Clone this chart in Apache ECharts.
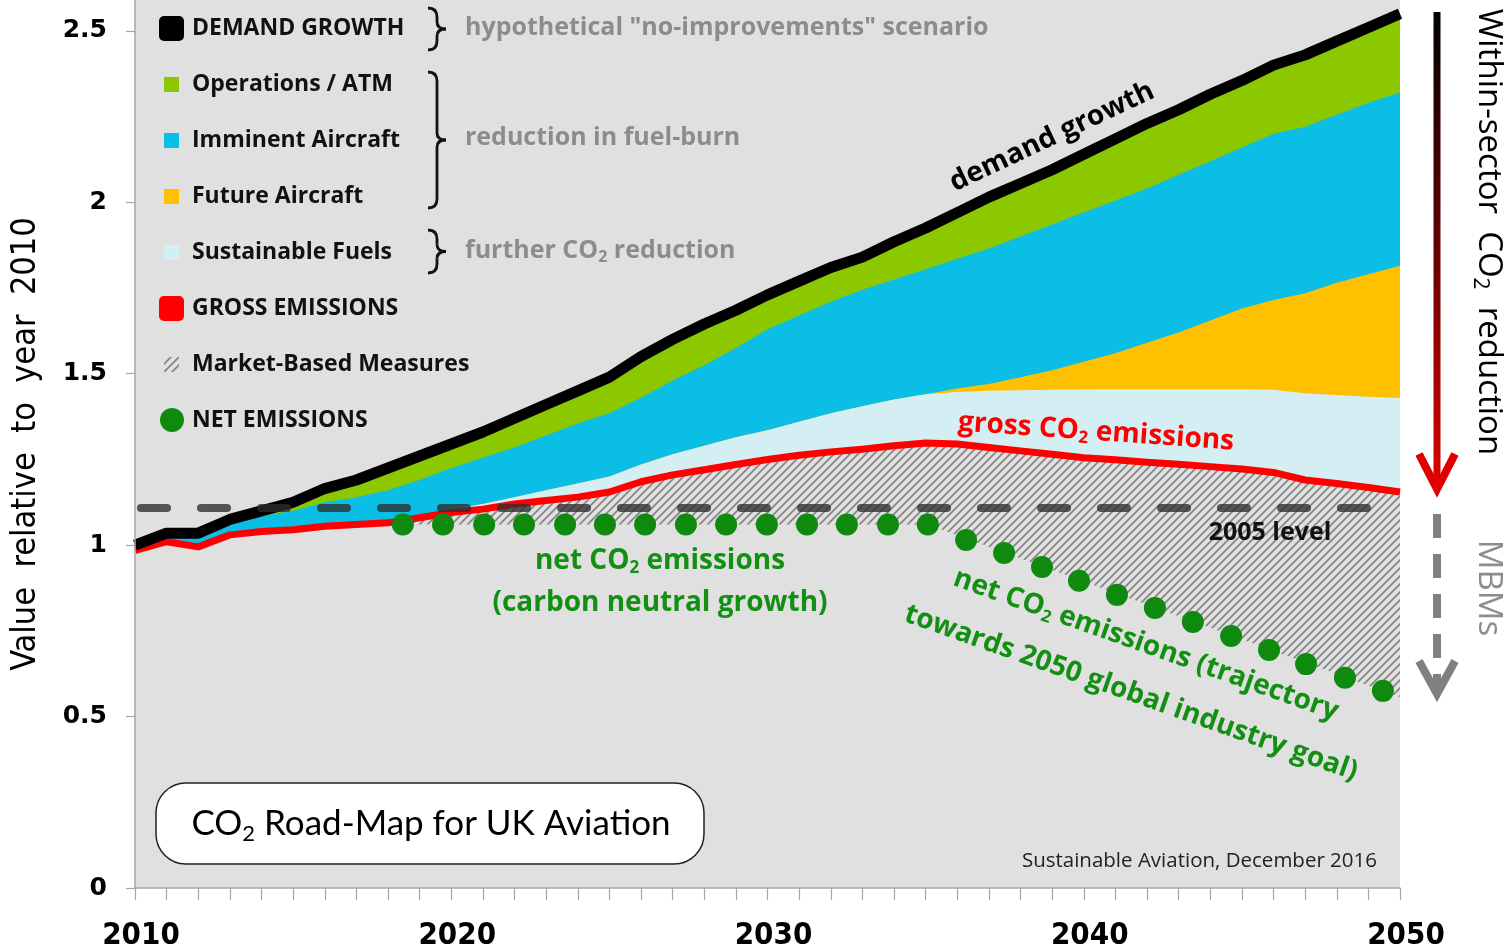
<!DOCTYPE html>
<html>
<head>
<meta charset="utf-8">
<script src="https://cdn.jsdelivr.net/npm/echarts@6/dist/echarts.min.js"></script>
<style>html,body{margin:0;padding:0;background:#fff;}#c{width:1507px;height:951px;}</style>
</head>
<body>
<div id="c"></div>
<script>
// ---------- data ----------
const years = [2010,2011,2012,2013,2014,2015,2016,2017,2018,2019,2020,2021,2022,2023,2024,2025,2026,2027,2028,2029,2030,
  2031,2032,2033,2034,2035,2036,2037,2038,2039,2040,2041,2042,2043,2044,2045,2046,2047,2048,2049,2050];
// demand growth (top of green band)
const demand = [1.000,1.035,1.035,1.075,1.100,1.125,1.165,1.190,1.225,1.260,1.295,1.330,1.370,1.410,1.450,1.490,1.550,1.600,1.645,1.685,1.730,
  1.770,1.810,1.840,1.885,1.925,1.970,2.015,2.055,2.095,2.140,2.185,2.230,2.270,2.315,2.355,2.400,2.430,2.470,2.510,2.550];
// top of Imminent Aircraft band (bottom of Operations/ATM)
const imminentTop = [1.000,1.025,1.025,1.065,1.085,1.100,1.125,1.140,1.160,1.190,1.225,1.255,1.285,1.320,1.355,1.385,1.430,1.480,1.525,1.575,1.630,
  1.670,1.710,1.745,1.775,1.805,1.835,1.865,1.900,1.935,1.970,2.005,2.040,2.080,2.120,2.160,2.200,2.220,2.255,2.290,2.320];
// top of Future Aircraft band
const futureTop = [0.985,1.010,0.995,1.030,1.040,1.045,1.055,1.060,1.065,1.085,1.105,1.120,1.140,1.160,1.180,1.200,1.235,1.265,1.290,1.315,1.335,
  1.360,1.385,1.405,1.425,1.440,1.457,1.470,1.490,1.510,1.535,1.560,1.590,1.620,1.655,1.690,1.715,1.735,1.765,1.790,1.815];
// top of Sustainable Fuels band
const fuelsTop = [0.985,1.010,0.995,1.030,1.040,1.045,1.055,1.060,1.065,1.085,1.105,1.120,1.140,1.160,1.180,1.200,1.235,1.265,1.290,1.315,1.335,
  1.360,1.385,1.405,1.425,1.440,1.447,1.450,1.452,1.453,1.454,1.455,1.455,1.455,1.455,1.455,1.453,1.443,1.438,1.433,1.429];
// gross CO2 emissions
const gross = [0.985,1.010,0.995,1.030,1.040,1.045,1.055,1.060,1.065,1.080,1.095,1.105,1.120,1.130,1.140,1.155,1.185,1.205,1.220,1.235,1.250,
  1.262,1.272,1.280,1.290,1.298,1.295,1.285,1.275,1.265,1.255,1.249,1.242,1.236,1.229,1.222,1.212,1.190,1.180,1.168,1.155];
// net CO2 emissions (dots)
const netYears = [2018.47,2019.74,2021.04,2022.30,2023.60,2024.86,2026.13,2027.42,2028.69,2029.98,2031.25,2032.51,2033.81,2035.07,
  2036.28,2037.48,2038.68,2039.85,2041.05,2042.25,2043.45,2044.66,2045.86,2047.03,2048.26,2049.46];
const netValues = [1.06,1.06,1.06,1.06,1.06,1.06,1.06,1.06,1.06,1.06,1.06,1.06,1.06,1.06,
  1.015,0.977,0.936,0.896,0.855,0.817,0.776,0.735,0.694,0.653,0.613,0.575];
// lower edge of the Market-Based Measures (hatched) band
const mbmFloorYears = [2018.47,2035.07,2050];
const mbmFloorValues = [1.06,1.06,0.557];
const level2005 = 1.111;
const yTicks = [0,0.5,1,1.5,2,2.5];
const xLabelYears = [2010,2020,2030,2040,2050];

// ---------- styling ----------
const FONT = '"Open Sans", Lato, sans-serif';
const LFONT = 'Lato, "Open Sans", sans-serif';
const BG = '#e0e0e0';
const C_GREEN = '#8cc800', C_BLUE = '#0bbee6', C_ORANGE = '#ffc000', C_FUEL = '#d4eff3',
      C_RED = '#ff0000', C_NET = '#0f8a0f', C_GREYTXT = '#8c8c8c', C_TXTGREEN = '#139013';

function makeHatch(bg) {
  const c = document.createElement('canvas'); c.width = 8; c.height = 8;
  const g = c.getContext('2d'); g.fillStyle = bg; g.fillRect(0, 0, 8, 8);
  g.strokeStyle = '#858585'; g.lineWidth = 1.7;
  g.beginPath(); g.moveTo(-2, 10); g.lineTo(10, -2); g.moveTo(-2, 2); g.lineTo(2, -2); g.moveTo(6, 10); g.lineTo(10, 6); g.stroke();
  return c;
}
const hatch = { image: makeHatch(BG), repeat: 'repeat' };

const pairs = (xs, ys) => xs.map((x, i) => [x, ys[i]]);
const area = (name, data, color, z) => ({
  type: 'line', name, data, z, symbol: 'none', silent: true,
  lineStyle: { width: 0 }, areaStyle: { color: color, opacity: 1 }
});
const floorData = pairs(years, gross).filter(p => p[0] < mbmFloorYears[0]).concat(pairs(mbmFloorYears, mbmFloorValues));

function brace(x, y1, y2) {
  const ym = (y1 + y2) / 2, w = 9, st = { stroke: '#111', lineWidth: 2.8, fill: null };
  const q = (a, b, c, d, e, f) => ({ type: 'bezierCurve', z: 100, shape: { x1: a, y1: b, cpx1: c, cpy1: d, x2: e, y2: f }, style: st });
  const l = (a, b, c, d) => ({ type: 'line', z: 100, shape: { x1: a, y1: b, x2: c, y2: d }, style: st });
  return [
    q(x, y1, x + w, y1, x + w, y1 + 9), l(x + w, y1 + 9, x + w, ym - 7),
    q(x + w, ym - 7, x + w, ym, x + 2 * w, ym), q(x + 2 * w, ym, x + w, ym, x + w, ym + 7),
    l(x + w, ym + 7, x + w, y2 - 9), q(x + w, y2 - 9, x + w, y2, x, y2)
  ];
}
const legendItems = [
  { t: 'DEMAND GROWTH', y: 28 }, { t: 'Operations / ATM', y: 84 }, { t: 'Imminent Aircraft', y: 140 },
  { t: 'Future Aircraft', y: 196 }, { t: 'Sustainable Fuels', y: 252 }, { t: 'GROSS EMISSIONS', y: 308 },
  { t: 'Market-Based Measures', y: 364 }, { t: 'NET EMISSIONS', y: 420 }
];
const g = [];
legendItems.forEach(it => g.push({ type: 'text', x: 192, y: it.y, z: 100,
  style: { text: it.t, font: `bold 23px ${FONT}`, fill: '#111', align: 'left', verticalAlign: 'middle' } }));
g.push({ type: 'rect', shape: { x: 159, y: 16, width: 25, height: 25, r: 5 }, style: { fill: '#000' }, z: 100 });
g.push({ type: 'rect', shape: { x: 164, y: 77, width: 15, height: 15 }, style: { fill: C_GREEN }, z: 100 });
g.push({ type: 'rect', shape: { x: 164, y: 133, width: 15, height: 15 }, style: { fill: C_BLUE }, z: 100 });
g.push({ type: 'rect', shape: { x: 164, y: 189, width: 15, height: 15 }, style: { fill: C_ORANGE }, z: 100 });
g.push({ type: 'rect', shape: { x: 164, y: 245, width: 15, height: 15 }, style: { fill: C_FUEL }, z: 100 });
g.push({ type: 'rect', shape: { x: 159, y: 296, width: 25, height: 25, r: 5 }, style: { fill: C_RED }, z: 100 });
g.push({ type: 'rect', shape: { x: 164, y: 357, width: 15, height: 15 }, style: { fill: { image: makeHatch(BG), repeat: 'repeat' } }, z: 100 });
g.push({ type: 'circle', shape: { cx: 172, cy: 420, r: 12 }, style: { fill: C_NET }, z: 100 });
// braces + group notes
[[8, 50], [72, 208], [230, 273]].forEach(b => brace(428, b[0], b[1]).forEach(e => g.push(e)));
const noteRich = { a: { font: `bold 25px ${FONT}`, fill: C_GREYTXT }, s: { font: `bold 16px ${FONT}`, fill: C_GREYTXT, padding: [13, 0, 0, 0] } };
g.push({ type: 'text', x: 465, y: 28, z: 100, style: { text: '{a|hypothetical "no-improvements" scenario}', rich: noteRich, align: 'left', verticalAlign: 'middle' } });
g.push({ type: 'text', x: 465, y: 138, z: 100, style: { text: '{a|reduction in fuel-burn}', rich: noteRich, align: 'left', verticalAlign: 'middle' } });
g.push({ type: 'text', x: 465, y: 251, z: 100, style: { text: '{a|further CO}{s|2}{a| reduction}', rich: noteRich, align: 'left', verticalAlign: 'middle' } });
// curve labels
function rt(txt, color, size) {
  return { text: txt, align: 'center', verticalAlign: 'middle',
    rich: { a: { font: `bold ${size}px ${FONT}`, fill: color }, s: { font: `bold ${Math.round(size * 0.62)}px ${FONT}`, fill: color, padding: [Math.round(size * 0.5), 0, 0, 0] } } };
}
g.push({ type: 'text', x: 1052, y: 137, rotation: 0.44, z: 100, style: rt('{a|demand growth}', '#000', 28) });
g.push({ type: 'text', x: 1096, y: 432, rotation: -0.07, z: 100, style: rt('{a|gross CO}{s|2}{a| emissions}', C_RED, 28) });
g.push({ type: 'text', x: 660, y: 561, z: 100, style: rt('{a|net CO}{s|2}{a| emissions}', C_TXTGREEN, 28) });
g.push({ type: 'text', x: 660, y: 603, z: 100, style: rt('{a|(carbon neutral growth)}', C_TXTGREEN, 28) });
g.push({ type: 'text', x: 1146, y: 645, rotation: -0.34, z: 100, style: rt('{a|net CO}{s|2}{a| emissions (trajectory}', C_TXTGREEN, 28) });
g.push({ type: 'text', x: 1131, y: 693, rotation: -0.34, z: 100, style: rt('{a|towards 2050 global industry goal)}', C_TXTGREEN, 28) });
g.push({ type: 'text', x: 1270, y: 533, z: 100, style: { text: '2005 level', font: `bold 25px ${FONT}`, fill: '#111', align: 'center', verticalAlign: 'middle' } });
// title box
g.push({ type: 'rect', z: 100, shape: { x: 156, y: 783, width: 548, height: 81, r: 30 }, style: { fill: '#fff', stroke: '#222', lineWidth: 1.5 } });
g.push({ type: 'text', x: 431, y: 824, z: 101, style: {
  text: '{a|CO}{s|2}{a| Road-Map for UK Aviation}', align: 'center', verticalAlign: 'middle',
  rich: { a: { font: `35px ${LFONT}`, fill: '#000' }, s: { font: `22px ${LFONT}`, fill: '#000', padding: [19, 0, 0, 0] } } } });
g.push({ type: 'text', x: 1377, y: 861, z: 100, style: { text: 'Sustainable Aviation, December 2016', font: `20.5px ${FONT}`, fill: '#222', align: 'right', verticalAlign: 'middle' } });
// right-hand arrows and labels
g.push({ type: 'line', z: 100, shape: { x1: 1437, y1: 12, x2: 1437, y2: 486 }, style: { lineWidth: 7,
  stroke: new echarts.graphic.LinearGradient(0, 0, 0, 1, [{ offset: 0, color: '#000' }, { offset: 0.55, color: '#700000' }, { offset: 1, color: '#e00000' }], false) } });
g.push({ type: 'polyline', z: 100, shape: { points: [[1419, 454], [1437, 489], [1455, 454]] }, style: { stroke: '#e00000', lineWidth: 8, fill: null } });
g.push({ type: 'line', z: 100, shape: { x1: 1437, y1: 514, x2: 1437, y2: 690 }, style: { lineWidth: 8, stroke: '#808080', lineDash: [24, 16] } });
g.push({ type: 'polyline', z: 100, shape: { points: [[1419, 661], [1437, 694], [1455, 661]] }, style: { stroke: '#808080', lineWidth: 8, fill: null } });
g.push({ type: 'text', x: 1488, y: 232, rotation: -Math.PI / 2, z: 100, style: {
  text: '{a|Within-sector  CO}{s|2}{a|  reduction}', align: 'center', verticalAlign: 'middle',
  rich: { a: { font: `33px ${FONT}`, fill: '#000' }, s: { font: `21px ${FONT}`, fill: '#000', padding: [17, 0, 0, 0] } } } });
g.push({ type: 'text', x: 1488, y: 588, rotation: -Math.PI / 2, z: 100, style: { text: 'MBMs', font: `33px ${FONT}`, fill: '#8c8c8c', align: 'center', verticalAlign: 'middle' } });

const chart = echarts.init(document.getElementById('c'), null, { renderer: 'canvas' });
chart.setOption({
  animation: false,
  backgroundColor: '#fff',
  grid: { left: 135, right: 107, top: 0, bottom: 63, show: true, backgroundColor: BG, borderWidth: 0,
    containLabel: false, outerBoundsMode: 'none' },
  xAxis: {
    type: 'value', min: 2010, max: 2050, interval: 1, z: 50,
    axisLine: { show: true, lineStyle: { color: '#a6a6a6', width: 1.5 } },
    axisTick: { show: true, length: 12, lineStyle: { color: '#a6a6a6', width: 1.2 } },
    splitLine: { show: false },
    axisLabel: { margin: 32, padding: [0, 0, 0, 12], formatter: v => xLabelYears.includes(v) ? String(v) : '',
      fontFamily: '"Liberation Sans Narrow", "DejaVu Sans Condensed", sans-serif', fontWeight: 'bold', fontSize: 31, color: '#000' }
  },
  yAxis: {
    type: 'value', min: 0, max: 2.59, interval: 0.5, z: 50,
    name: 'Value  relative  to  year  2010', nameLocation: 'middle', nameGap: 92, nameRotate: 90,
    nameTextStyle: { fontFamily: '"Liberation Sans Narrow", "DejaVu Sans Condensed", sans-serif', fontSize: 34, color: '#000' },
    axisLine: { show: true, lineStyle: { color: '#a6a6a6', width: 1.5 } },
    axisTick: { show: true, length: 9, lineStyle: { color: '#a6a6a6', width: 1.2 } },
    splitLine: { show: false },
    axisLabel: { margin: 28, showMaxLabel: false, formatter: v => yTicks.includes(v) ? String(v) : '',
      fontFamily: '"DejaVu Sans", sans-serif', fontWeight: 'bold', fontSize: 25, color: '#000' }
  },
  series: [
    area('Operations / ATM', pairs(years, demand), C_GREEN, 1),
    area('Imminent Aircraft', pairs(years, imminentTop), C_BLUE, 2),
    area('Future Aircraft', pairs(years, futureTop), C_ORANGE, 3),
    area('Sustainable Fuels', pairs(years, fuelsTop), C_FUEL, 4),
    area('Market-Based Measures', pairs(years, gross), hatch, 5),
    area('floor', floorData, BG, 6),
    { type: 'line', name: 'GROSS EMISSIONS', data: pairs(years, gross), z: 7, symbol: 'none', silent: true,
      lineStyle: { color: C_RED, width: 7, join: 'round' } },
    { type: 'line', name: 'DEMAND GROWTH', data: pairs(years, demand), z: 8, symbol: 'none', silent: true,
      lineStyle: { color: '#000', width: 11, join: 'round' } },
    { type: 'line', name: '2005 level', data: [], z: 9, silent: true,
      markLine: { z: 9, silent: true, symbol: ['none', 'none'], label: { show: false },
        lineStyle: { color: 'rgba(45,45,45,0.78)', width: 8, type: [26, 34], dashOffset: -6, cap: 'round' },
        data: [{ yAxis: level2005 }] } },
    { type: 'scatter', name: 'NET EMISSIONS', data: pairs(netYears, netValues), z: 10, symbol: 'circle', symbolSize: 22,
      silent: true, itemStyle: { color: C_NET, opacity: 1 } }
  ],
  graphic: { elements: g }
});
</script>
</body>
</html>
